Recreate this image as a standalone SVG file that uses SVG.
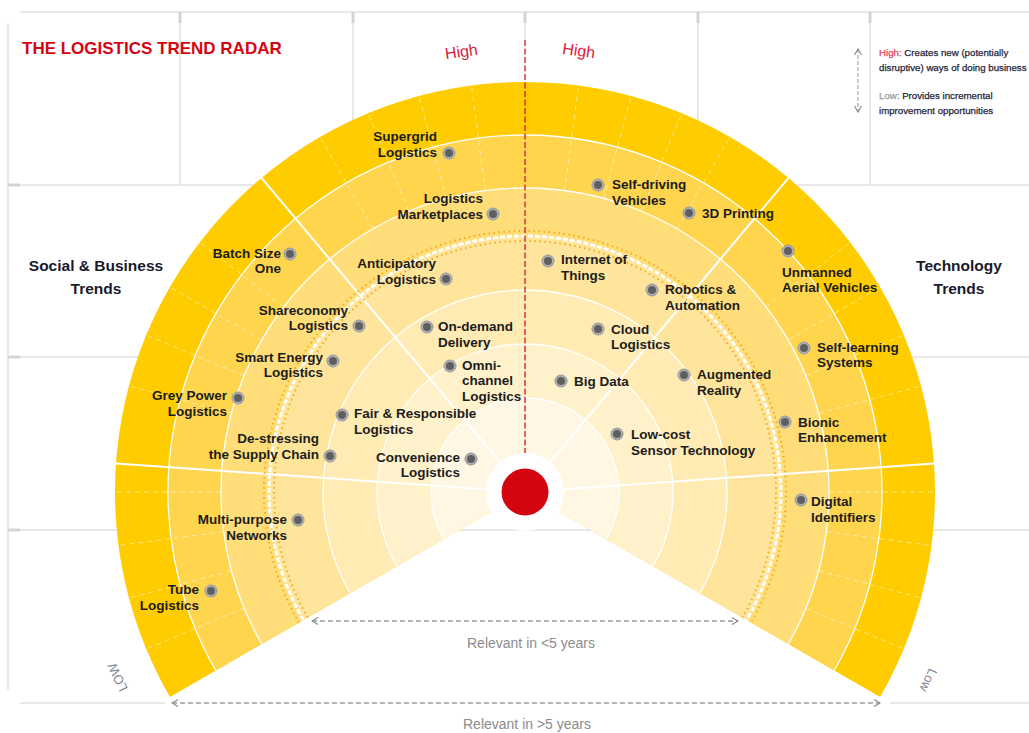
<svg xmlns="http://www.w3.org/2000/svg" width="1029" height="733" viewBox="0 0 1029 733">
<style>
.grid{stroke:#e1e1e1;stroke-width:1.5;fill:none}
.stub{stroke:#d4d4d4;stroke-width:3}
.lbl{font-family:"Liberation Sans",Arial,sans-serif;font-weight:bold;font-size:13.5px;fill:#1c1c1c}
.end{text-anchor:end}
.head{font-family:"Liberation Sans",Arial,sans-serif;font-weight:bold;font-size:15.5px;fill:#1a1a2e;text-anchor:middle}
.ring{stroke:#fff;stroke-width:1.3;fill:none}
.div{stroke:#fff;stroke-width:2}
.sub{stroke:#fff;stroke-opacity:.5;stroke-width:1;stroke-dasharray:5 4}
.dash{stroke:#9a9a9a;stroke-width:1.3;stroke-dasharray:5 3;fill:none}
.rel{font-family:"Liberation Sans",Arial,sans-serif;font-size:14px;fill:#8c8c8c;text-anchor:middle}
.leg{font-family:"Liberation Sans",Arial,sans-serif;font-size:9.7px;fill:#1f1f3a;stroke:#1f1f3a;stroke-width:.25}
.hi{font-family:"Liberation Sans",Arial,sans-serif;font-size:16px;fill:#D6213A;text-anchor:middle}
.low{font-family:"Liberation Sans",Arial,sans-serif;font-size:13px;fill:#7d8696;text-anchor:middle}
</style>
<defs>
<g id="dot"><circle r="6.5" fill="#b0b0b0"/><circle r="5.8" fill="none" stroke="#888" stroke-width="1" stroke-dasharray="1 1"/><circle r="4" fill="#5f5f5f"/></g>
<marker id="chev" viewBox="0 0 8 8" refX="7" refY="4" markerWidth="8" markerHeight="8" markerUnits="userSpaceOnUse" orient="auto-start-reverse"><path d="M1,0.5 L7,4 L1,7.5" fill="none" stroke="#8a8a8a" stroke-width="1.2"/></marker>
</defs>

<g id="grid">
<line class="grid" x1="20" y1="12" x2="1029" y2="12"/>
<line class="grid" x1="8" y1="185" x2="1029" y2="185"/>
<line class="grid" x1="8" y1="357" x2="1029" y2="357"/>
<line class="grid" x1="8" y1="530" x2="1029" y2="530"/>
<line class="grid" x1="20" y1="703" x2="165" y2="703"/>
<line class="grid" x1="890" y1="703" x2="1029" y2="703"/>
<line class="grid" x1="8" y1="23" x2="8" y2="690"/>
<line class="grid" x1="180" y1="12" x2="180" y2="185"/>
<line class="grid" x1="353" y1="12" x2="353" y2="200"/>
<line class="grid" x1="525" y1="12" x2="525" y2="40"/>
<line class="grid" x1="698" y1="12" x2="698" y2="200"/>
<line class="grid" x1="870" y1="12" x2="870" y2="185"/>
<line class="stub" x1="180" y1="12" x2="180" y2="23"/>
<line class="stub" x1="353" y1="12" x2="353" y2="23"/>
<line class="stub" x1="525" y1="12" x2="525" y2="23"/>
<line class="stub" x1="698" y1="12" x2="698" y2="23"/>
<line class="stub" x1="870" y1="12" x2="870" y2="23"/>
<line class="stub" x1="8" y1="185" x2="20" y2="185"/>
<line class="stub" x1="8" y1="357" x2="20" y2="357"/>
<line class="stub" x1="8" y1="530" x2="20" y2="530"/>
</g>

<g id="radar">
<path d="M525,492 L169.94,697 A410,410 0 1 1 880.06,697 Z" fill="#FFCC00"/>
<path d="M525,492 L215.83,670.5 A357,357 0 1 1 834.17,670.5 Z" fill="#FFD54D"/>
<path d="M525,492 L261.73,644 A304,304 0 1 1 788.27,644 Z" fill="#FFDE7A"/>
<path d="M525,492 L303.3,620 A256,256 0 1 1 746.7,620 Z" fill="#FFE59C"/>
<path d="M525,492 L350.07,593 A202,202 0 1 1 699.93,593 Z" fill="#FFEBB3"/>
<path d="M525,492 L396.83,566 A148,148 0 1 1 653.17,566 Z" fill="#FFF1CA"/>
<path d="M525,492 L443.59,539 A94,94 0 1 1 606.41,539 Z" fill="#FFF7E3"/>
<path class="ring" d="M215.83,670.5 A357,357 0 1 1 834.17,670.5"/>
<path class="ring" d="M261.73,644 A304,304 0 1 1 788.27,644"/>
<path class="ring" d="M350.07,593 A202,202 0 1 1 699.93,593"/>
<path class="ring" d="M396.83,566 A148,148 0 1 1 653.17,566"/>
<path class="ring" d="M443.59,539 A94,94 0 1 1 606.41,539"/>
<g>
<line class="sub" x1="805.9" y1="608.3" x2="903.8" y2="648.9"/>
<line class="sub" x1="818.6" y1="570.7" x2="921" y2="598.1"/>
<line class="sub" x1="826.4" y1="531.7" x2="931.5" y2="545.5"/>
<line class="sub" x1="829" y1="492" x2="935" y2="492"/>
<line class="sub" x1="818.6" y1="413.3" x2="921" y2="385.9"/>
<line class="sub" x1="805.9" y1="375.7" x2="903.8" y2="335.1"/>
<line class="sub" x1="788.3" y1="340" x2="880.1" y2="287"/>
<line class="sub" x1="766.2" y1="306.9" x2="850.3" y2="242.4"/>
<line class="sub" x1="677" y1="228.7" x2="730" y2="136.9"/>
<line class="sub" x1="641.3" y1="211.1" x2="681.9" y2="113.2"/>
<line class="sub" x1="603.7" y1="198.4" x2="631.1" y2="96"/>
<line class="sub" x1="564.7" y1="190.6" x2="578.5" y2="85.5"/>
<line class="sub" x1="485.3" y1="190.6" x2="471.5" y2="85.5"/>
<line class="sub" x1="446.3" y1="198.4" x2="418.9" y2="96"/>
<line class="sub" x1="408.7" y1="211.1" x2="368.1" y2="113.2"/>
<line class="sub" x1="373" y1="228.7" x2="320" y2="136.9"/>
<line class="sub" x1="283.8" y1="306.9" x2="199.7" y2="242.4"/>
<line class="sub" x1="261.7" y1="340" x2="169.9" y2="287"/>
<line class="sub" x1="244.1" y1="375.7" x2="146.2" y2="335.1"/>
<line class="sub" x1="231.4" y1="413.3" x2="129" y2="385.9"/>
<line class="sub" x1="221" y1="492" x2="115" y2="492"/>
<line class="sub" x1="223.6" y1="531.7" x2="118.5" y2="545.5"/>
<line class="sub" x1="231.4" y1="570.7" x2="129" y2="598.1"/>
<line class="sub" x1="244.1" y1="608.3" x2="146.2" y2="648.9"/>
</g>
<line class="div" x1="525" y1="492" x2="934" y2="463.4"/>
<line class="div" x1="525" y1="492" x2="788.5" y2="177.9"/>
<line class="div" x1="525" y1="492" x2="261.5" y2="177.9"/>
<line class="div" x1="525" y1="492" x2="116" y2="463.4"/>
<path d="M303.3,620 A256,256 0 1 1 746.7,620" fill="none" stroke="#fff" stroke-width="3" stroke-dasharray="5 2"/>
<path d="M307.63,617.5 A251,251 0 1 1 742.37,617.5" fill="none" stroke="#F7A81B" stroke-width="2" stroke-dasharray="1.5 3.5"/>
<path d="M298.97,622.5 A261,261 0 1 1 751.03,622.5" fill="none" stroke="#F7A81B" stroke-width="2" stroke-dasharray="1.5 3.5"/>
<circle cx="525" cy="492" r="39" fill="#fff"/>
<line x1="525" y1="40" x2="525" y2="453" stroke="#E0303A" stroke-width="1.5" stroke-dasharray="6 2.5"/>
<circle cx="525" cy="492" r="23.5" fill="#D40511"/>
</g>

<g id="titles">
<text x="22" y="54" font-family="Liberation Sans, Arial, sans-serif" font-weight="bold" font-size="17" fill="#D40511">THE LOGISTICS TREND RADAR</text>
<text class="head" x="96" y="271">Social &amp; Business</text>
<text class="head" x="96" y="294">Trends</text>
<text class="head" x="959" y="271">Technology</text>
<text class="head" x="959" y="294">Trends</text>
<text class="hi" transform="translate(462,57) rotate(-8)">High</text>
<text class="hi" transform="translate(578,56) rotate(8)">High</text>
<text class="low" transform="translate(118,677) rotate(-115)" dy="4">LOW</text>
<text class="low" transform="translate(928,680) rotate(115)" dy="4">Low</text>
</g>

<g id="legend">
<line x1="858" y1="49" x2="858" y2="112" stroke="#9a9a9a" stroke-width="1" stroke-dasharray="4 2" marker-start="url(#chev)" marker-end="url(#chev)"/>
<text class="leg" x="879" y="56"><tspan fill="#E0405A" stroke="#E0405A">High:</tspan> Creates new (potentially</text>
<text class="leg" x="879" y="71">disruptive) ways of doing business</text>
<text class="leg" x="879" y="99"><tspan fill="#9a9a9a" stroke="#9a9a9a">Low:</tspan> Provides incremental</text>
<text class="leg" x="879" y="114">improvement opportunities</text>
</g>

<g id="connectors">
<line class="dash" x1="312" y1="621" x2="738" y2="621" marker-start="url(#chev)" marker-end="url(#chev)"/>
<line class="dash" x1="172" y1="703" x2="880" y2="703" marker-start="url(#chev)" marker-end="url(#chev)"/>
</g>
<text class="rel" x="531" y="648">Relevant in &lt;5 years</text>
<text class="rel" x="527" y="729">Relevant in &gt;5 years</text>

<g id="n-supergrid"><use href="#dot" x="449" y="153"/><text class="lbl end" x="437" y="141">Supergrid<tspan x="437" y="157">Logistics</tspan></text></g>
<g id="n-marketplaces"><use href="#dot" x="493" y="214"/><text class="lbl end" x="483" y="203">Logistics<tspan x="483" y="219">Marketplaces</tspan></text></g>
<g id="n-anticipatory"><use href="#dot" x="446" y="279"/><text class="lbl end" x="436" y="268">Anticipatory<tspan x="436" y="284">Logistics</tspan></text></g>
<g id="n-batch"><use href="#dot" x="290" y="254"/><text class="lbl end" x="281" y="258">Batch Size<tspan x="281" y="273">One</tspan></text></g>
<g id="n-shareconomy"><use href="#dot" x="359" y="326"/><text class="lbl end" x="348" y="315">Shareconomy<tspan x="348" y="330">Logistics</tspan></text></g>
<g id="n-smartenergy"><use href="#dot" x="333" y="361"/><text class="lbl end" x="323" y="362">Smart Energy<tspan x="323" y="377">Logistics</tspan></text></g>
<g id="n-greypower"><use href="#dot" x="238" y="398"/><text class="lbl end" x="227" y="400">Grey Power<tspan x="227" y="416">Logistics</tspan></text></g>
<g id="n-destressing"><use href="#dot" x="330" y="456"/><text class="lbl end" x="319" y="443">De-stressing<tspan x="319" y="459">the Supply Chain</tspan></text></g>
<g id="n-convenience"><use href="#dot" x="471" y="459"/><text class="lbl end" x="460" y="462">Convenience<tspan x="460" y="477">Logistics</tspan></text></g>
<g id="n-multipurpose"><use href="#dot" x="298" y="520"/><text class="lbl end" x="287" y="524">Multi-purpose<tspan x="287" y="540">Networks</tspan></text></g>
<g id="n-tube"><use href="#dot" x="211" y="591"/><text class="lbl end" x="199" y="594">Tube<tspan x="199" y="610">Logistics</tspan></text></g>
<g id="n-ondemand"><use href="#dot" x="427" y="327"/><text class="lbl" x="438" y="331">On-demand<tspan x="438" y="347">Delivery</tspan></text></g>
<g id="n-omnichannel"><use href="#dot" x="450" y="366"/><text class="lbl" x="462" y="370">Omni-<tspan x="462" y="385">channel</tspan><tspan x="462" y="401">Logistics</tspan></text></g>
<g id="n-fair"><use href="#dot" x="342" y="415"/><text class="lbl" x="354" y="418">Fair &amp; Responsible<tspan x="354" y="434">Logistics</tspan></text></g>
<g id="n-selfdriving"><use href="#dot" x="598" y="185"/><text class="lbl" x="612" y="189">Self-driving<tspan x="612" y="205">Vehicles</tspan></text></g>
<g id="n-3dprinting"><use href="#dot" x="689" y="213"/><text class="lbl" x="702" y="218">3D Printing</text></g>
<g id="n-iot"><use href="#dot" x="548" y="261"/><text class="lbl" x="561" y="264">Internet of<tspan x="561" y="280">Things</tspan></text></g>
<g id="n-robotics"><use href="#dot" x="652" y="290"/><text class="lbl" x="665" y="294">Robotics &amp;<tspan x="665" y="310">Automation</tspan></text></g>
<g id="n-uav"><use href="#dot" x="788" y="251"/><text class="lbl" x="782" y="277">Unmanned<tspan x="782" y="292">Aerial Vehicles</tspan></text></g>
<g id="n-cloud"><use href="#dot" x="598" y="329"/><text class="lbl" x="611" y="334">Cloud<tspan x="611" y="349">Logistics</tspan></text></g>
<g id="n-selflearning"><use href="#dot" x="804" y="348"/><text class="lbl" x="817" y="352">Self-learning<tspan x="817" y="367">Systems</tspan></text></g>
<g id="n-bigdata"><use href="#dot" x="561" y="381"/><text class="lbl" x="574" y="386">Big Data</text></g>
<g id="n-ar"><use href="#dot" x="684" y="375"/><text class="lbl" x="697" y="379">Augmented<tspan x="697" y="395">Reality</tspan></text></g>
<g id="n-bionic"><use href="#dot" x="785" y="422"/><text class="lbl" x="798" y="427">Bionic<tspan x="798" y="442">Enhancement</tspan></text></g>
<g id="n-lowcost"><use href="#dot" x="617" y="434"/><text class="lbl" x="631" y="439">Low-cost<tspan x="631" y="455">Sensor Technology</tspan></text></g>
<g id="n-digitalid"><use href="#dot" x="801" y="500"/><text class="lbl" x="811" y="506">Digital<tspan x="811" y="522">Identifiers</tspan></text></g>
</svg>
